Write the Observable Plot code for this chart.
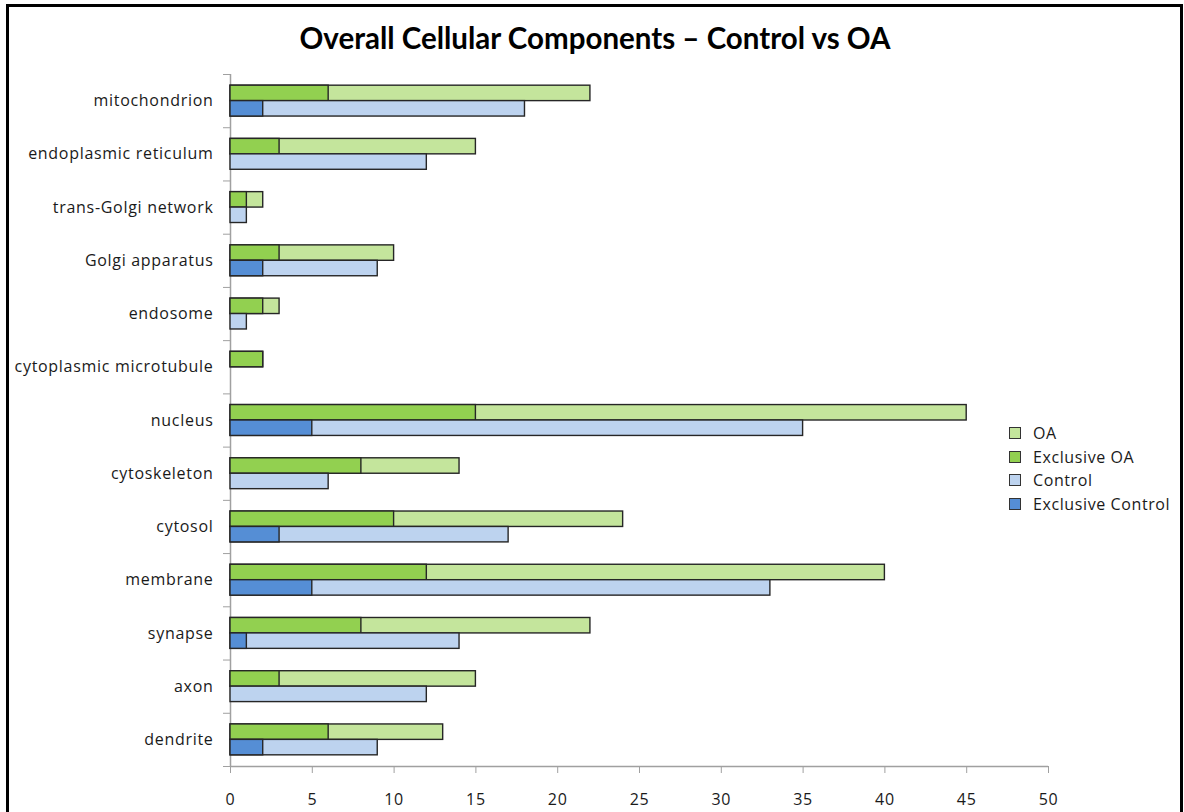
<!DOCTYPE html>
<html>
<head>
<meta charset="utf-8">
<script src="https://cdn.jsdelivr.net/npm/d3@7"></script>
<script src="https://cdn.jsdelivr.net/npm/@observablehq/plot@0.6"></script>
<style>
  html, body { margin: 0; padding: 0; background: #fff; }
  #wrap { position: relative; width: 1184px; height: 812px; overflow: hidden; }
  #border { position: absolute; left: 6px; top: 4px; width: 1171px; height: 900px; border: 3px solid #000; box-sizing: content-box; pointer-events: none; }
  #title { position: absolute; left: 0; width: 1190px; top: 20px; text-align: center; font-family: Lato, "Open Sans", sans-serif; font-weight: 700; font-size: 29.5px; color: #000; }
  #chart { position: absolute; left: 0; top: 0; }
  #chart svg text { letter-spacing: 0.7px; }
  #legend { position: absolute; left: 1009px; top: 421px; font-family: "Open Sans", sans-serif; font-size: 16px; letter-spacing: 0.6px; color: #1a1a1a; }
  .item { height: 23.8px; display: flex; align-items: center; }
  .sw { width: 10px; height: 10px; border: 1.5px solid #333; margin-right: 12px; }
</style>
</head>
<body>
<div id="wrap">
  <div id="chart"></div>
  <div id="title">Overall Cellular Components – Control vs OA</div>
  <div id="legend"></div>
  <div id="border"></div>
</div>
<script>
const categories = ["mitochondrion", "endoplasmic reticulum", "trans-Golgi network", "Golgi apparatus", "endosome", "cytoplasmic microtubule", "nucleus", "cytoskeleton", "cytosol", "membrane", "synapse", "axon", "dendrite"];
const oa               = [22, 15, 2, 10, 3, 2, 45, 14, 24, 40, 22, 15, 13];
const exclusiveOA      = [ 6,  3, 1,  3, 2, 2, 15,  8, 10, 12,  8,  3,  6];
const control          = [18, 12, 1,  9, 1, 0, 35,  6, 17, 33, 14, 12,  9];
const exclusiveControl = [ 2,  0, 0,  2, 0, 0,  5,  0,  3,  5,  1,  0,  2];
const xTicks = [0, 5, 10, 15, 20, 25, 30, 35, 40, 45, 50];

const seriesNames = ["OA", "Exclusive OA", "Control", "Exclusive Control"];
const seriesColors = ["#c4e59c", "#92d050", "#bdd3ef", "#558ed5"];

const rows = categories.map((category, i) => ({
  i, category,
  oa: oa[i], exclusiveOA: exclusiveOA[i], control: control[i], exclusiveControl: exclusiveControl[i]
}));

const h = 0.29; // bar thickness in category units
const stroke = "#262626";
const sw = 1.4;

const chart = Plot.plot({
  width: 1184,
  height: 812,
  marginLeft: 230,
  marginRight: 136,
  marginTop: 74,
  marginBottom: 46,
  style: { fontFamily: "'Open Sans', sans-serif", fontSize: "16px", color: "#1a1a1a", background: "transparent" },
  x: { domain: [0, 50], axis: null },
  y: { domain: [-0.5, categories.length - 0.5], reverse: true, axis: null },
  marks: [
    Plot.ruleX([0], { stroke: "#a0a0a0", strokeWidth: 1.5 }),
    Plot.ruleY([categories.length - 0.5], { stroke: "#a0a0a0", strokeWidth: 1.5 }),
    Plot.axisX({ ticks: xTicks, tickSize: 7, tickPadding: 20, stroke: "#a0a0a0", fontSize: 16, tickFormat: d => String(d) }),
    Plot.axisY({ ticks: d3.range(categories.length + 1).map(k => k - 0.5), tickSize: 7, stroke: "#a0a0a0", tickFormat: () => "" }),
    Plot.axisY({ ticks: d3.range(categories.length), tickSize: 0, tickPadding: 17, fontSize: 16, tickFormat: k => categories[k] }),
    Plot.rectX(rows.filter(d => d.oa > 0), { x1: 0, x2: "oa", y1: d => d.i - h, y2: d => d.i, fill: seriesColors[0], stroke, strokeWidth: sw }),
    Plot.rectX(rows.filter(d => d.exclusiveOA > 0), { x1: 0, x2: "exclusiveOA", y1: d => d.i - h, y2: d => d.i, fill: seriesColors[1], stroke, strokeWidth: sw }),
    Plot.rectX(rows.filter(d => d.control > 0), { x1: 0, x2: "control", y1: d => d.i, y2: d => d.i + h, fill: seriesColors[2], stroke, strokeWidth: sw }),
    Plot.rectX(rows.filter(d => d.exclusiveControl > 0), { x1: 0, x2: "exclusiveControl", y1: d => d.i, y2: d => d.i + h, fill: seriesColors[3], stroke, strokeWidth: sw })
  ]
});
document.getElementById("chart").appendChild(chart);

const legend = document.getElementById("legend");
seriesNames.forEach((name, k) => {
  const item = document.createElement("div");
  item.className = "item";
  const s = document.createElement("span");
  s.className = "sw";
  s.style.background = seriesColors[k];
  const t = document.createElement("span");
  t.textContent = name;
  item.appendChild(s); item.appendChild(t);
  legend.appendChild(item);
});
</script>
</body>
</html>
